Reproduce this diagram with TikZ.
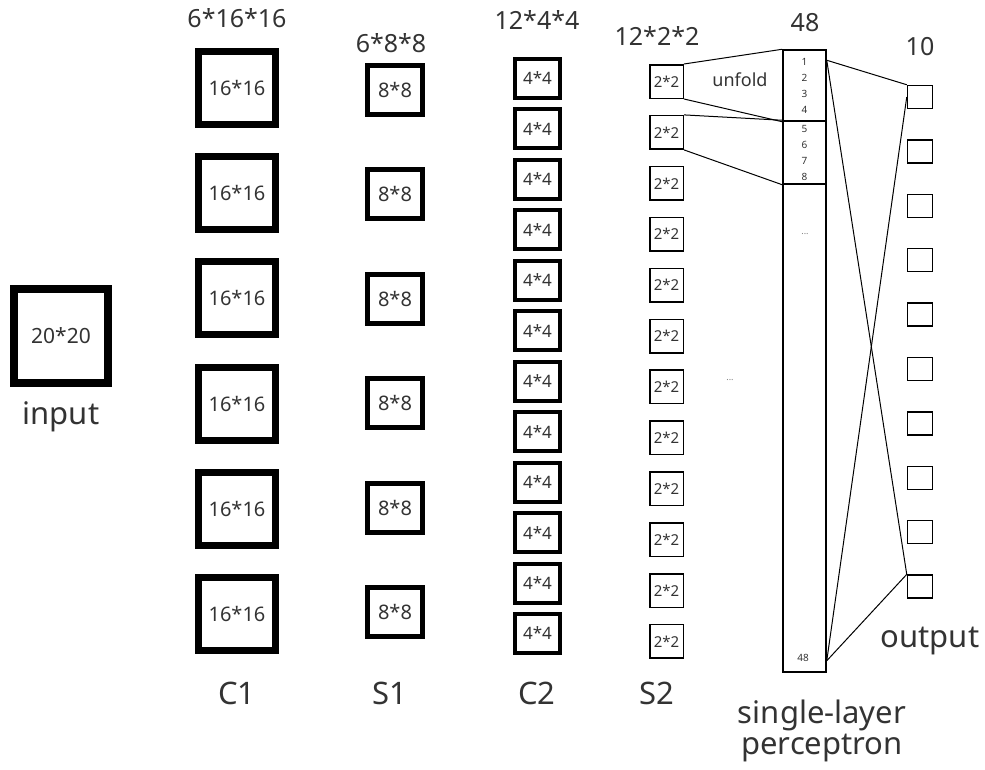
\documentclass[tikz,border=0pt]{standalone}
\usepackage{fontspec}
\setmainfont{Noto Sans}
\usepackage{tikz}
\usetikzlibrary{positioning, calc}

\begin{document}
\begin{tikzpicture}[
    x=1pt, y=-1pt,
    txt/.style={text=black!80, inner sep=0pt},
    big/.style={txt, font=\fontsize{25}{30}\selectfont, align=center},
    lbl/.style={txt, font=\fontsize{31}{31}\selectfont, align=center},
    inbox/.style={draw, line width=8pt, minimum width=94pt, minimum height=94pt, inner sep=0pt, txt, font=\fontsize{21}{21}\selectfont},
    conv/.style={draw, line width=7pt, minimum width=77pt, minimum height=73pt, inner sep=0pt, txt, font=\fontsize{20}{20}\selectfont},
    pool/.style={draw, line width=5pt, minimum width=55pt, minimum height=49pt, inner sep=0pt, txt, font=\fontsize{20}{20}\selectfont},
    convb/.style={draw, line width=4pt, minimum width=45pt, minimum height=39pt, inner sep=0pt, txt, font=\fontsize{17}{17}\selectfont},
    poolb/.style={draw, line width=1.5pt, minimum width=33.5pt, minimum height=33.5pt, inner sep=0pt, txt, font=\fontsize{15}{15}\selectfont},
    cell/.style={draw, line width=1.5pt, minimum width=43pt, inner sep=0pt, txt, align=center, font=\fontsize{10}{16}\selectfont},
    unit/.style={draw, line width=1.5pt, minimum width=25pt, minimum height=23pt, inner sep=0pt},
    link/.style={line width=1pt}
]
\useasboundingbox (0,0) rectangle (985,769);

% Input
\node[inbox] (in) at (61,336) {20*20};
\node[lbl, below=14pt of in] (inlbl) {input};

% C1 and S1
\foreach \i in {1,...,6} {
  \node[conv] (c1-\i) at (237,{88+(\i-1)*105.2}) {16*16};
  \node[pool] (s1-\i) at (395,{90+(\i-1)*104.4}) {8*8};
}

% C2 and S2
\foreach \i in {1,...,12} {
  \node[convb] (c2-\i) at (537.5,{78.5+(\i-1)*50.45}) {4*4};
  \node[poolb] (s2-\i) at (666.5,{81.5+(\i-1)*50.9}) {2*2};
}
\node[txt, text=black!50, font=\fontsize{9}{9}\selectfont] (gap) at (730,380) {...};

% Single-layer perceptron
\node[cell, minimum height=71pt] (u1) at (804.5,85.5) {1\\2\\3\\4};
\node[cell, minimum height=63pt] (u2) at (804.5,152.5) {5\\6\\7\\8};
\node[cell, minimum height=488pt] (u3) at (804.5,428) {};
\node[txt, text=black!50, font=\fontsize{9}{9}\selectfont] (udots) at (805,234) {...};
\node[txt, font=\fontsize{10}{10}\selectfont] (ulast) at (803,658) {48};
\coordinate (n1) at ($(u1.north east)+(0,11)$);
\coordinate (n48) at ($(u3.south east)+(0,-12)$);

% Output
\foreach \i in {1,...,10}
  \node[unit] (o\i) at (920,{97+(\i-1)*54.4}) {};

% Headers
\node[big] (h1) at (237,18) {6*16*16};
\node[big] (h2) at (391,43) {6*8*8};
\node[big] (h3) at (537,20) {12*4*4};
\node[big] (h4) at (657,36) {12*2*2};
\node[big] (h5) at (805,23) {48};
\node[big] (h6) at (920,47) {10};

% Footers
\node[lbl] (f1) at (237,693) {C1};
\node[lbl] (f2) at (390,693) {S1};
\node[lbl] (f3) at (537,693) {C2};
\node[lbl] (f4) at (657,693) {S2};
\node[lbl] (f5) at (822,731) {single-layer\\perceptron};
\node[lbl] (f6) at (930,641) {output};

% Unfold
\node[txt, font=\fontsize{18}{18}\selectfont] (unf) at (740,80) {unfold};
\draw[link] (s2-1.north east) -- (u1.north west);
\draw[link] (s2-1.south east) -- (u1.south west);
\draw[link] (s2-2.north east) -- (u2.north west);
\draw[link] (s2-2.south east) -- (u2.south west);

% Full connections
\draw[link] (n1) -- (o1.north west);
\draw[link] (n1) -- (o10.north west);
\draw[link] (n48) -- (o1.west);
\draw[link] (n48) -- (o10.north west);

\end{tikzpicture}
\end{document}
